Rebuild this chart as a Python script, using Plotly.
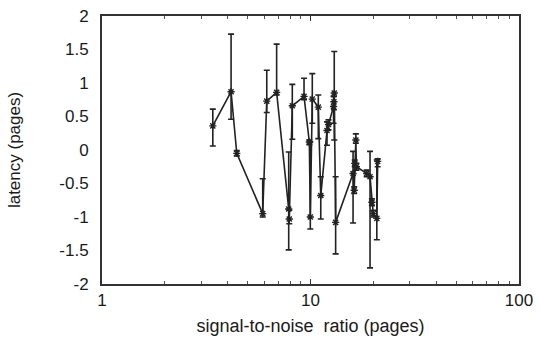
import plotly.graph_objects as go

# data (x: signal-to-noise ratio, y: latency)
snr = [3.40, 4.16, 4.43, 5.90, 6.17, 6.88, 7.86, 7.91, 8.18, 9.31, 9.87, 9.98,
       10.2, 10.9, 11.2, 12.0, 12.2, 12.9, 12.95, 13.0, 13.2,
       16.0, 16.2, 16.3, 16.5, 16.6, 18.6, 19.3, 19.7, 20.0, 20.8, 21.0]
latency = [0.36, 0.87, -0.05, -0.95, 0.73, 0.86, -0.88, -1.03, 0.66, 0.80, 0.12, -1.00,
           0.76, 0.64, -0.68, 0.29, 0.38, 0.65, 0.72, 0.85, -1.08,
           -0.35, -0.60, -0.20, 0.15, -0.25, -0.35, -0.40, -0.78, -0.95, -1.02, -0.17]
upper = [0.61, 1.73, -0.01, -0.43, 1.19, 1.58, -0.03, -0.90, 0.98, 1.07, 0.15, 0.12,
         1.14, 0.82, -0.40, 0.42, 0.45, 0.80, 0.80, 1.47, -0.40,
         -0.02, -0.55, -0.15, 0.24, -0.20, -0.30, -0.02, -0.73, -0.90, -0.15, -0.13]
lower = [0.06, 0.46, -0.09, -1.00, 0.56, 0.82, -1.49, -1.10, 0.16, 0.75, 0.08, -1.18,
         0.40, 0.17, -1.03, 0.07, 0.30, 0.40, 0.60, 0.15, -1.55,
         -1.09, -0.65, -0.25, 0.10, -0.30, -0.40, -1.76, -0.83, -1.00, -1.34, -0.25]

err_plus = [u - y for u, y in zip(upper, latency)]
err_minus = [y - l for y, l in zip(latency, lower)]

y_ticks = [-2, -1.5, -1, -0.5, 0, 0.5, 1, 1.5, 2]
x_ticks = [1, 10, 100]

fig = go.Figure()
fig.add_trace(go.Scatter(
    x=snr, y=latency, mode="lines+markers",
    line=dict(color="#222222", width=1.6),
    marker=dict(symbol="asterisk-open", size=6, color="#222222",
                line=dict(color="#222222", width=1.4)),
    error_y=dict(type="data", symmetric=False, array=err_plus, arrayminus=err_minus,
                 color="#222222", thickness=1.6, width=3),
    showlegend=False,
))

fam = "Liberation Sans, Arial, sans-serif"
tick_font = dict(family=fam, size=17, color="#1a1a1a")
xtitle_font = dict(family=fam, size=18, color="#1a1a1a")
ytitle_font = dict(family=fam, size=17, color="#1a1a1a")

fig.update_layout(
    width=540, height=338,
    margin=dict(l=102, r=21, t=16, b=54),
    paper_bgcolor="white", plot_bgcolor="white",
    font=tick_font,
    xaxis=dict(
        type="log", range=[0, 2], automargin=False,
        tickvals=x_ticks, ticktext=[str(v) for v in x_ticks],
        ticks="inside", ticklen=5, tickcolor="#333333",
        minor=dict(ticks="inside", ticklen=3, tickcolor="#555555",
                   tickvals=[2, 3, 4, 5, 6, 7, 8, 9, 20, 30, 40, 50, 60, 70, 80, 90]),
        showgrid=False, zeroline=False,
        showline=True, linecolor="#333333", linewidth=2, mirror="ticks",
        title=dict(text="signal-to-noise  ratio (pages)", standoff=10, font=xtitle_font),
        tickfont=tick_font,
    ),
    yaxis=dict(
        range=[-2, 2], automargin=False,
        tickvals=y_ticks, ticktext=[f"{v:g}" for v in y_ticks],
        ticks="", showgrid=False, zeroline=False, ticklabelstandoff=8,
        showline=True, linecolor="#333333", linewidth=2, mirror=True,
        title=dict(text="latency (pages)", standoff=34, font=ytitle_font),
        tickfont=tick_font,
    ),
)

fig.write_html("out.html")
